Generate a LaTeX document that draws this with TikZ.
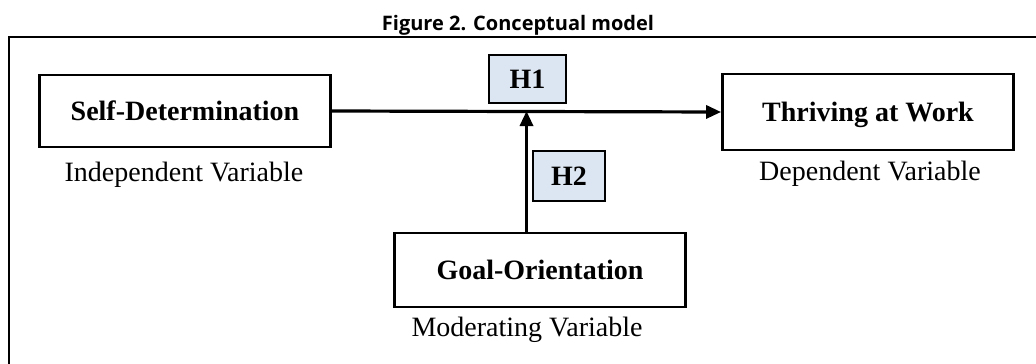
\documentclass[tikz,border=0pt]{standalone}
\usepackage{fontspec}
\setmainfont{Liberation Serif}
\newfontfamily\titlefont{Open Sans}
\usetikzlibrary{arrows.meta}
\definecolor{hfill}{RGB}{220,230,242}
\tikzset{
  varbox/.style={draw=black, line width=2.8pt, fill=white, minimum width=291pt, inner sep=0pt,
    font=\fontsize{28}{30}\selectfont\bfseries, text height=18.5pt, text depth=0pt},
  hbox/.style={draw=black, line width=2.8pt, fill=hfill, inner sep=0pt,
    font=\fontsize{28}{30}\selectfont\bfseries, text height=18.5pt, text depth=0pt},
  caption/.style={font=\fontsize{28}{30}\selectfont, anchor=base, inner sep=0pt},
  conn/.style={line width=3.2pt, -{Triangle[length=15pt,width=13pt]}},
}
\begin{document}
\begin{tikzpicture}[x=1pt,y=-1pt]
\useasboundingbox (0,0) rectangle (1036,364);
\node[font=\titlefont\fontsize{20}{22}\selectfont\bfseries, anchor=base, inner sep=0pt] (title) at (518,30) {Figure 2. Conceptual model};
\draw[line width=2.2pt] (9,364) -- (9,37) -- (1036,37);
\node[varbox, minimum height=72pt] (sd) at (185,111) {Self-Determination};
\node[varbox, minimum height=76pt] (tw) at (868,112) {Thriving at Work};
\node[varbox, minimum height=74pt] (go) at (540,270) {Goal-Orientation};
\node[hbox, minimum width=77pt, minimum height=48pt] (h1) at (527.5,79) {H1};
\node[hbox, minimum width=72pt, minimum height=50pt] (h2) at (569,176) {H2};
\node[caption] (iv) at (184,181) {Independent Variable};
\node[caption] (dv) at (870,180) {Dependent Variable};
\node[caption] (mv) at (527,336.5) {Moderating Variable};
\coordinate (m) at (526.5,111);
\draw[conn] (sd.east) -- (tw.west);
\draw[conn] (go.north -| m) -- (m);
\end{tikzpicture}
\end{document}
